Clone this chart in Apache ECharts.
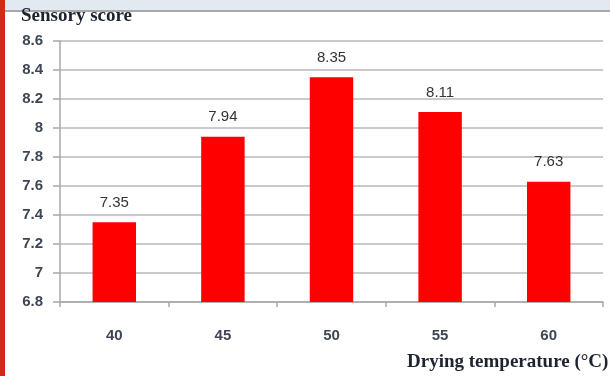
<!DOCTYPE html>
<html>
<head>
<meta charset="utf-8">
<script src="https://cdn.jsdelivr.net/npm/echarts@6/dist/echarts.min.js"></script>
<style>
  html, body { margin: 0; padding: 0; background: #ffffff; }
  #chart { width: 610px; height: 376px; }
</style>
</head>
<body>
<div id="chart"></div>
<script>
// Drying temperature (°C) versus sensory score
const temperatures = ['40', '45', '50', '55', '60'];
const sensoryScores = [7.35, 7.94, 8.35, 8.11, 7.63];

const yMin = 6.8;
const yMax = 8.6;
const yStep = 0.2;

const chart = echarts.init(document.getElementById('chart'), null, { renderer: 'canvas' });

const tickFont = {
  fontFamily: 'Liberation Sans, Arial, sans-serif',
  fontSize: 15,
  fontWeight: 'bold',
  color: '#3e4654'
};

chart.setOption({
  animation: false,
  backgroundColor: '#ffffff',
  graphic: [
    // frame pieces: red left edge, pale top band with a grey rule
    { type: 'rect', left: 0, top: 0, shape: { width: 5, height: 376 }, style: { fill: '#d3291d' }, z: 10 },
    { type: 'rect', left: 5, top: 0, shape: { width: 605, height: 10 }, style: { fill: '#e3e9f0' }, z: 10 },
    { type: 'rect', left: 5, top: 10, shape: { width: 605, height: 2 }, style: { fill: '#a9a9ab' }, z: 10 },
    {
      type: 'text', left: 21, top: 7, z: 10,
      style: { text: 'Sensory score', font: 'bold 19px "Liberation Serif", "Times New Roman", serif', fill: '#1e2330' }
    },
    {
      type: 'text', left: 407, top: 353, z: 10,
      style: { text: 'Drying temperature (\u00B0C)', font: 'bold 19px "Liberation Serif", "Times New Roman", serif', fill: '#1e2330' }
    }
  ],
  grid: { left: 60, right: 7, top: 41, bottom: 74, containLabel: false },
  xAxis: {
    type: 'category',
    data: temperatures,
    boundaryGap: true,
    axisLine: { show: true, lineStyle: { color: '#a8a8a8', width: 1.5 } },
    axisTick: { show: true, alignWithLabel: false, length: 5, lineStyle: { color: '#a8a8a8', width: 1.5 } },
    axisLabel: Object.assign({ margin: 26 }, tickFont)
  },
  yAxis: {
    type: 'value',
    min: yMin,
    max: yMax,
    interval: yStep,
    axisLine: { show: true, lineStyle: { color: '#a8a8a8', width: 1.5 } },
    axisTick: { show: true, inside: false, length: 7, lineStyle: { color: '#a8a8a8', width: 1.5 } },
    axisLabel: Object.assign({ margin: 17, formatter: v => String(Math.round(v * 10) / 10) }, tickFont),
    splitLine: { show: true, lineStyle: { color: '#b8b8b8', width: 1.5 } }
  },
  series: [{
    type: 'bar',
    data: sensoryScores,
    barWidth: '40%',
    itemStyle: { color: '#ff0000' },
    label: {
      show: true,
      position: 'top',
      distance: 12,
      fontFamily: 'Liberation Sans, Arial, sans-serif',
      fontSize: 15,
      color: '#333',
      formatter: p => p.value.toFixed(2)
    }
  }]
});
</script>
</body>
</html>
